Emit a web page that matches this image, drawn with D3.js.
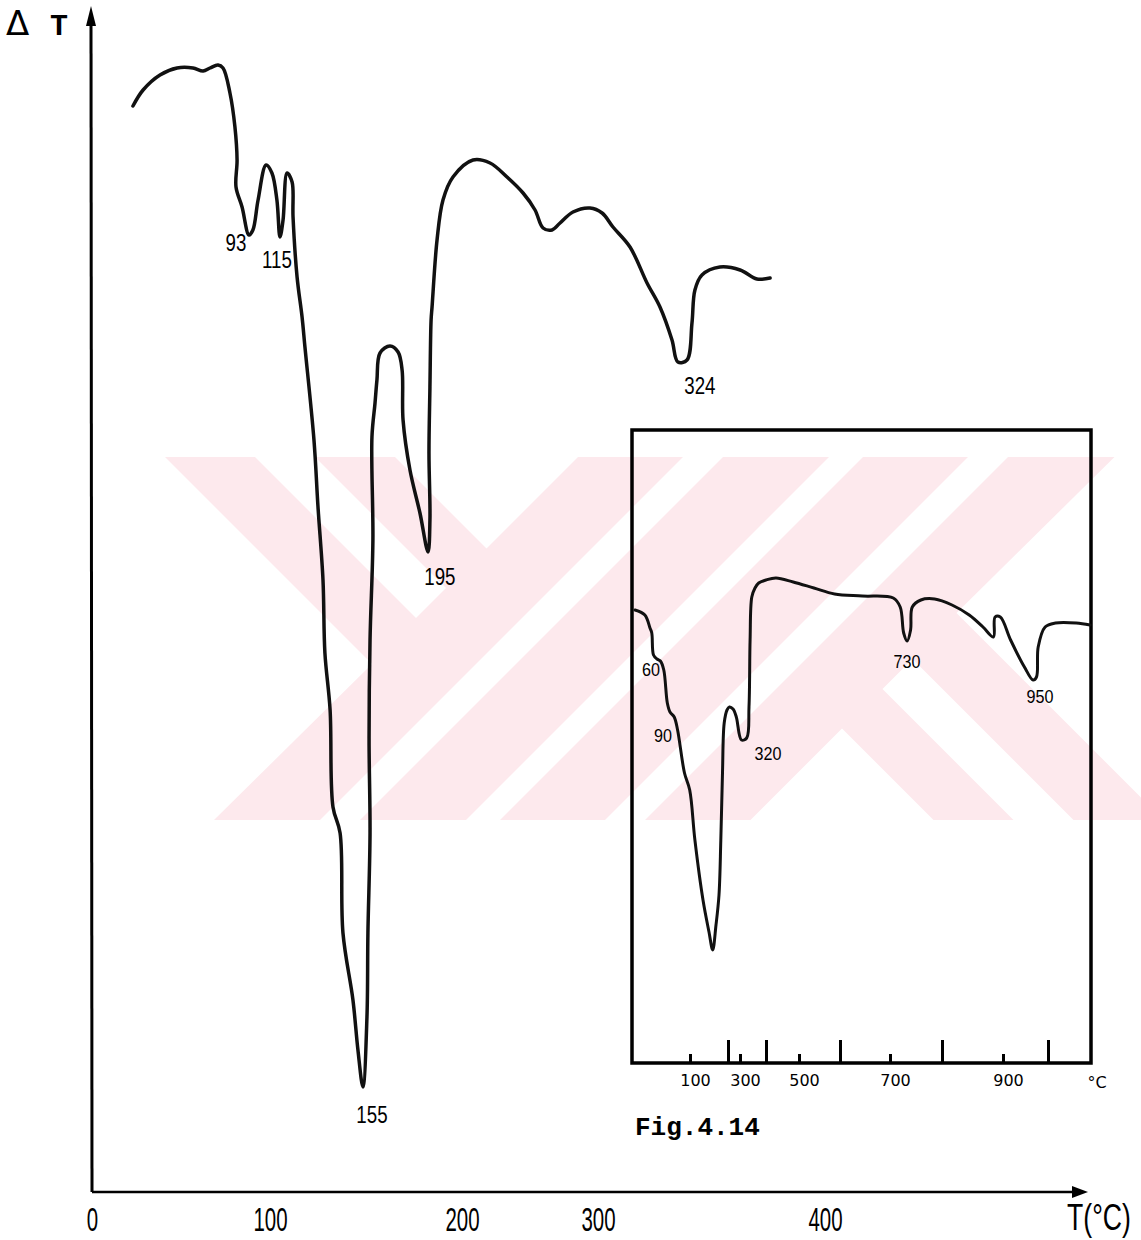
<!DOCTYPE html>
<html>
<head>
<meta charset="utf-8">
<script src="https://cdn.jsdelivr.net/npm/d3@7"></script>
<style>
body { margin: 0; background: #fff; }
</style>
</head>
<body>
<div id="chart"></div>
<script>
// main DTA trace, temperature, deflection in arbitrary units
var mainT = [23.0, 28.7, 38.2, 47.8, 56.7, 62.4, 66.3, 70.8, 73.6, 77.5, 80.3, 81.5, 80.9, 84.3, 88.2,
    90.4, 93.3, 97.8, 101.0, 103.6, 105.2, 106.8, 108.9, 111.5, 112.0, 114.1, 116.7, 118.2, 122.9,
    125.0, 127.6, 128.6, 131.3, 132.8, 136.5, 138.0, 143.2, 145.8, 148.4, 150.5, 151.0, 152.1, 151.6,
    152.1, 153.6, 153.1, 154.7, 155.7, 157.3, 162.5, 166.7, 168.8, 169.3, 172.9, 178.1, 182.3, 183.3,
    182.8, 183.3, 183.9, 184.4, 187.0, 190.1, 195.3, 208.1, 220.6, 233.1, 244.9, 253.7, 259.6, 266.2,
    272.1, 281.6, 294.1, 301.8, 306.6, 314.1, 321.6, 327.3, 332.6, 335.2, 339.2, 341.4, 342.7, 345.8,
    353.7, 362.6, 370.0, 375.8];
var mainDT = [108.6, 110.2, 111.7, 112.4, 112.4, 112.1, 112.4, 112.7, 112.4, 109.9, 106.5, 103.2, 100.5, 98.5, 95.7,
    96.2, 99.2, 102.7, 101.9, 99.2, 95.5, 97.2, 101.9, 101.0, 97.5, 91.5, 87.5, 84.5, 75.2,
    68.5, 61.2, 53.9, 48.2, 38.5, 35.9, 25.9, 19.2, 14.2, 10.5, 17.5, 25.9, 35.9, 45.2,
    55.2, 65.2, 75.5, 78.9, 81.2, 83.9, 84.6, 84.0, 82.2, 77.2, 72.2, 67.9, 64.0, 67.2,
    73.9, 80.5, 87.2, 88.5, 95.2, 99.2, 101.5, 103.2, 102.9, 101.5, 99.9, 98.2, 96.4, 96.2,
    96.9, 98.0, 98.4, 97.9, 96.5, 94.5, 90.9, 88.5, 85.2, 83.0, 83.2, 86.9, 90.2, 91.7,
    92.5, 92.2, 91.3, 91.4];
var mainTicks = [0, 100, 200, 300, 400];
var mainLabels = ['93', '115', '155', '195', '324'];
var mainLabelT = [80.9, 103.6, 153.1, 188.5, 344.9];
var mainLabelDT = [94.9, 93.2, 7.7, 61.5, 80.6];

// inset trace up to 1100 C
var insetT = [5.2, 22.2, 31.0, 34.1, 37.1, 43.1, 49.0, 54.8, 60.9, 65.5, 72.8, 78.6, 90.5, 99.5,
    112.9, 134.2, 150.0, 159.7, 168.4, 176.3, 181.1, 185.5, 190.0, 197.4, 211.7, 241.7, 269.2, 305.8,
    325.8, 334.6, 338.8, 345.4, 357.7, 371.9, 400, 430.3, 482.4, 536.3, 586.8, 644.6, 706.3, 719.6,
    726.3, 732.9, 739.6, 742.9, 759.4, 785.9, 816.4, 844.6, 867.2, 884.3, 887.0, 895.6, 916.9, 947.6,
    966.7, 974.4, 978.2, 993.6, 1017.4, 1065.6, 1097.7];
var insetDT = [45.3, 44.8, 43.5, 43.0, 40.8, 40.4, 40.2, 39.3, 36.0, 35.1, 34.6, 33.3, 29.0, 27.3,
    22.3, 16.3, 13.1, 11.3, 13.8, 16.8, 22.3, 29.0, 34.0, 35.3, 35.6, 35.4, 34.6, 32.3,
    32.5, 35.6, 42.3, 46.6, 47.5, 48.0, 48.3, 48.5, 48.1, 47.5, 46.9, 46.7, 46.5, 45.6,
    43.0, 42.2, 43.3, 45.6, 46.3, 46.4, 45.8, 44.8, 43.6, 42.6, 44.6, 44.6, 42.3, 39.6,
    38.3, 38.6, 41.6, 43.6, 44.0, 44.0, 43.8];
var insetMajorTicks = [200, 400, 600, 800, 1000];
var insetMinorTicks = [100, 300, 500, 700, 900];
var insetLabels = ['60', '90', '320', '730', '950'];
var insetLabelT = [32.8, 53.4, 406, 732.7, 982];
var insetLabelDT = [39.4, 32.8, 31.0, 40.2, 36.7];

var width = 1141, height = 1240;
var sans = "'Liberation Sans', Arial, sans-serif";

var svg = d3.select('#chart').append('svg')
    .attr('width', width)
    .attr('height', height);

// faint pink watermark in the background
function watermark(svg) {
    var g = svg.append('g');
    var left = 165, top = 457, bottom = 820, right = 1170;
    var cx = 664.25, cy = 638.5;
    g.append('rect')
        .attr('x', left).attr('y', top)
        .attr('width', right - left).attr('height', bottom - top)
        .attr('fill', '#fde9ed');
    var cuts = [
        [[165, 457], [372, 664], [214, 820], [165, 820]],
        [[255, 457], [315, 457], [446, 588], [416, 618]],
        [[395, 457], [578, 457], [486.5, 548.5]]
    ];
    var rotated = cuts.map(function (poly) {
        return poly.map(function (p) { return [2 * cx - p[0], 2 * cy - p[1]]; });
    });
    var stripes = [[1140, 1180], [1286, 1320], [1425, 1465]].map(function (s) {
        return [[s[0] - top, top], [s[1] - top, top], [s[1] - bottom, bottom], [s[0] - bottom, bottom]];
    });
    g.selectAll('polygon')
        .data(cuts.concat(rotated, stripes))
        .enter().append('polygon')
        .attr('points', function (d) { return d.map(function (p) { return p.join(','); }).join(' '); })
        .attr('fill', '#fff');
}
watermark(svg);

// main chart
var x = d3.scaleLinear()
    .domain([0, 100, 200, 300, 400, 512])
    .range([92, 270, 462, 598, 825, 1080]);
var y = d3.scaleLinear()
    .domain([0, 118])
    .range([1192, 12]);

var line = d3.line()
    .x(function (d) { return x(d[0]); })
    .y(function (d) { return y(d[1]); })
    .curve(d3.curveCatmullRom.alpha(0.5));

svg.append('path')
    .datum(d3.zip(mainT, mainDT))
    .attr('d', line)
    .attr('fill', 'none')
    .attr('stroke', '#111')
    .attr('stroke-width', 3.5)
    .attr('stroke-linejoin', 'round')
    .attr('stroke-linecap', 'round');

// hand drawn axes with arrow heads
svg.append('line')
    .attr('x1', x(0)).attr('y1', y(0))
    .attr('x2', x(0) - 1).attr('y2', y(118) + 4)
    .attr('stroke', '#000').attr('stroke-width', 3);
svg.append('path')
    .attr('d', 'M' + (x(0) - 1) + ',' + (y(118) - 6) + 'l-5,20l10,0z')
    .attr('fill', '#000');
svg.append('line')
    .attr('x1', x(0)).attr('y1', y(0))
    .attr('x2', x(512)).attr('y2', y(0))
    .attr('stroke', '#000').attr('stroke-width', 2.5);
svg.append('path')
    .attr('d', 'M' + (x(512) + 8) + ',' + y(0) + 'l-16,-6l0,12z')
    .attr('fill', '#000');

var xAxis = svg.append('g')
    .attr('transform', 'translate(0,' + y(0) + ')')
    .call(d3.axisBottom(x).tickValues(mainTicks).tickSize(0).tickPadding(16));
xAxis.select('.domain').remove();
xAxis.selectAll('text')
    .attr('transform', 'scale(0.62,1)')
    .attr('font-family', sans)
    .attr('font-size', 33)
    .attr('fill', '#000');

svg.append('text')
    .attr('transform', 'translate(1099,1230) scale(0.72,1)')
    .attr('text-anchor', 'middle')
    .attr('font-family', sans)
    .attr('font-size', 37)
    .text('T(°C)');

svg.append('text')
    .attr('x', 6).attr('y', 35)
    .attr('font-family', 'DejaVu Sans, sans-serif')
    .attr('font-size', 34)
    .text('Δ');
svg.append('text')
    .attr('x', 50).attr('y', 35)
    .attr('font-family', "'Liberation Mono', monospace")
    .attr('font-weight', 'bold')
    .attr('font-size', 30)
    .text('T');

svg.append('g').selectAll('text')
    .data(d3.range(mainLabels.length))
    .enter().append('text')
    .attr('transform', function (i) {
        return 'translate(' + x(mainLabelT[i]) + ',' + y(mainLabelDT[i]) + ') scale(0.78,1)';
    })
    .attr('dy', '0.35em')
    .attr('text-anchor', 'middle')
    .attr('font-family', sans)
    .attr('font-size', 24)
    .text(function (i) { return mainLabels[i]; });

// inset: full range run
var xi = d3.scaleLinear()
    .domain([0, 100, 200, 300, 400, 500, 600, 700, 800, 900, 1000, 1100])
    .range([632, 690, 728, 740, 766, 799, 840, 890, 942, 1003, 1048, 1091]);
var yi = d3.scaleLinear()
    .domain([0, 63.3])
    .range([1063, 430]);

svg.append('rect')
    .attr('x', xi(0)).attr('y', yi(63.3))
    .attr('width', xi(1100) - xi(0)).attr('height', yi(0) - yi(63.3))
    .attr('fill', 'none')
    .attr('stroke', '#000')
    .attr('stroke-width', 3.5);

var lineInset = d3.line()
    .x(function (d) { return xi(d[0]); })
    .y(function (d) { return yi(d[1]); })
    .curve(d3.curveCatmullRom.alpha(0.5));

svg.append('path')
    .datum(d3.zip(insetT, insetDT))
    .attr('d', lineInset)
    .attr('fill', 'none')
    .attr('stroke', '#111')
    .attr('stroke-width', 3)
    .attr('stroke-linejoin', 'round')
    .attr('stroke-linecap', 'round');

var majorAxis = svg.append('g')
    .attr('transform', 'translate(0,' + yi(0) + ')')
    .call(d3.axisBottom(xi).tickValues(insetMajorTicks).tickSize(-23).tickFormat(''));
var minorAxis = svg.append('g')
    .attr('transform', 'translate(0,' + yi(0) + ')')
    .call(d3.axisBottom(xi).tickValues(insetMinorTicks).tickSize(-9).tickPadding(12));
[majorAxis, minorAxis].forEach(function (a) {
    a.select('.domain').remove();
    a.selectAll('line').attr('stroke', '#000').attr('stroke-width', 3);
});
minorAxis.selectAll('text')
    .attr('dx', 5)
    .attr('font-family', 'DejaVu Sans, sans-serif')
    .attr('font-size', 16)
    .attr('fill', '#000');

svg.append('text')
    .attr('x', 1097).attr('y', yi(0) + 25)
    .attr('text-anchor', 'middle')
    .attr('font-family', 'DejaVu Sans, sans-serif')
    .attr('font-size', 16)
    .text('°C');

svg.append('g').selectAll('text')
    .data(d3.range(insetLabels.length))
    .enter().append('text')
    .attr('transform', function (i) {
        return 'translate(' + xi(insetLabelT[i]) + ',' + yi(insetLabelDT[i]) + ') scale(0.85,1)';
    })
    .attr('dy', '0.35em')
    .attr('text-anchor', 'middle')
    .attr('font-family', sans)
    .attr('font-size', 19)
    .text(function (i) { return insetLabels[i]; });

svg.append('text')
    .attr('x', 635).attr('y', 1135)
    .attr('font-family', "'Liberation Mono', monospace")
    .attr('font-weight', 'bold')
    .attr('font-size', 26)
    .text('Fig.4.14');
</script>
</body>
</html>
